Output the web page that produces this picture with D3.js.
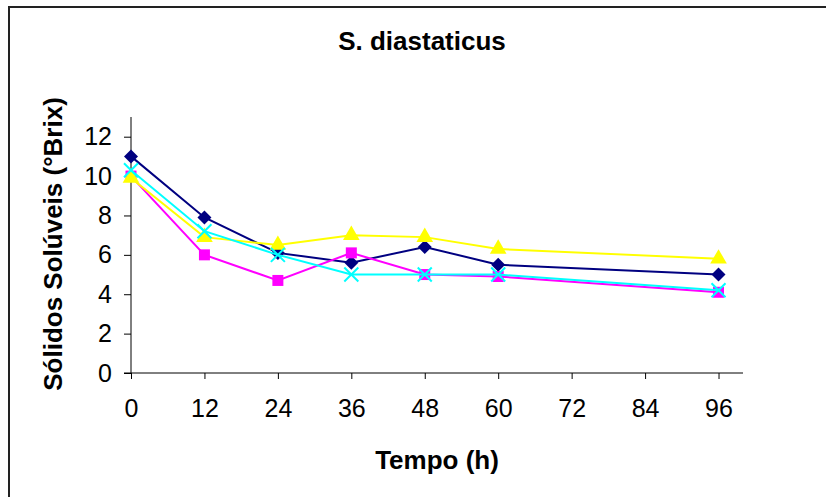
<!DOCTYPE html>
<html>
<head>
<meta charset="utf-8">
<script src="https://cdn.jsdelivr.net/npm/d3@7"></script>
<style>
  body { margin: 0; background: #fff; }
  text { font-family: "Liberation Sans", Arial, sans-serif; fill: #000; }
</style>
</head>
<body>
<div id="chart"></div>
<script>
// data
var tempo = [0, 12, 24, 36, 48, 60, 96];
var xTicks = [0, 12, 24, 36, 48, 60, 72, 84, 96];
var yTicks = [0, 2, 4, 6, 8, 10, 12];
var serieAzul = [11.0, 7.9, 6.1, 5.6, 6.4, 5.5, 5.0];
var serieMagenta = [10.0, 6.0, 4.7, 6.1, 5.0, 4.9, 4.1];
var serieAmarela = [9.9, 6.9, 6.5, 7.0, 6.9, 6.3, 5.8];
var serieCiano = [10.3, 7.2, 6.0, 5.0, 5.0, 5.0, 4.2];

var W = 826, H = 497;
var margin = {top: 117, right: 83, bottom: 124, left: 131};
var width = W - margin.left - margin.right,
    height = H - margin.top - margin.bottom;

var svg = d3.select("#chart").append("svg")
    .attr("width", W)
    .attr("height", H);

// outer chart border (runs off right/bottom edges like the original)
svg.append("rect")
    .attr("x", 9).attr("y", 7)
    .attr("width", W).attr("height", H)
    .attr("fill", "none")
    .attr("stroke", "#222")
    .attr("stroke-width", 2);

var x = d3.scaleLinear().domain([0, 100]).range([0, width]);
var y = d3.scaleLinear().domain([0, 13]).range([height, 0]);

var g = svg.append("g")
    .attr("transform", "translate(" + margin.left + "," + margin.top + ")");

g.append("g")
    .attr("transform", "translate(0," + height + ")")
    .call(d3.axisBottom(x).tickValues(xTicks).tickSize(6).tickPadding(20));
g.append("g")
    .call(d3.axisLeft(y).tickValues(yTicks).tickSize(7).tickPadding(12));

g.selectAll(".domain").remove();
g.append("line").attr("x1", -7).attr("x2", x(100))
    .attr("y1", height).attr("y2", height).attr("stroke", "#000");
g.append("line").attr("x1", 0).attr("x2", 0)
    .attr("y1", 0).attr("y2", height).attr("stroke", "#000");

g.selectAll(".tick line").attr("stroke", "#000");
g.selectAll(".tick text")
    .style("font-size", "25px")
    .style("font-family", "'Liberation Sans', Arial, sans-serif");

var diamond = "M0,-7L7,0L0,7L-7,0Z";

var series = [
  {vals: serieAzul, color: "#000080", sym: "diamond"},
  {vals: serieMagenta, color: "#ff00ff", sym: d3.symbolSquare, size: 121},
  {vals: serieAmarela, color: "#ffff00", sym: d3.symbolTriangle, size: 120},
  {vals: serieCiano, color: "#00ffff", sym: "x", size: 7}
];

var line = d3.line()
    .x(function(d, i) { return x(tempo[i]); })
    .y(function(d) { return y(d); });

series.forEach(function(s) {
  g.append("path")
      .datum(s.vals)
      .attr("fill", "none")
      .attr("stroke", s.color)
      .attr("stroke-width", 2)
      .attr("d", line);

  var pts = g.append("g").selectAll("g")
      .data(s.vals)
    .enter().append("g")
      .attr("transform", function(d, i) {
        return "translate(" + x(tempo[i]) + "," + y(d) + ")";
      });

  if (s.sym === "x") {
    var r = s.size;
    pts.append("path")
        .attr("d", "M" + -r + "," + -r + "L" + r + "," + r + "M" + -r + "," + r + "L" + r + "," + -r)
        .attr("stroke", s.color)
        .attr("stroke-width", 2)
        .attr("fill", "none");
  } else if (s.sym === "diamond") {
    pts.append("path").attr("d", diamond).attr("fill", s.color);
  } else {
    pts.append("path")
        .attr("d", d3.symbol().type(s.sym).size(s.size))
        .attr("fill", s.color);
  }
});

svg.append("text")
    .attr("x", 422).attr("y", 50)
    .attr("text-anchor", "middle")
    .style("font-size", "26px").style("font-weight", "bold")
    .text("S. diastaticus");

svg.append("text")
    .attr("x", 437).attr("y", 469)
    .attr("text-anchor", "middle")
    .style("font-size", "26px").style("font-weight", "bold")
    .text("Tempo (h)");

svg.append("text")
    .attr("transform", "translate(62,244) rotate(-90)")
    .attr("text-anchor", "middle")
    .style("font-size", "26px").style("font-weight", "bold")
    .text("Sólidos Solúveis (°Brix)");
</script>
</body>
</html>
